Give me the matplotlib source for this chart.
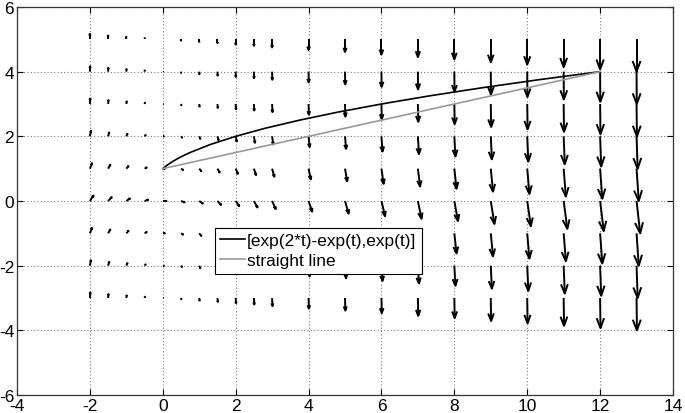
import numpy as np
import matplotlib.pyplot as plt
from matplotlib.collections import LineCollection

plt.rcParams['font.family'] = ['Liberation Sans', 'DejaVu Sans']
plt.rcParams['axes.unicode_minus'] = False

# quiver grid
x_grid = [-2, -1.5, -1, -0.5, 0, 0.5, 1, 1.5, 2, 2.5, 3, 4, 5, 6, 7, 8, 9, 10, 11, 12, 13]
y_grid = [5, 4, 3, 2, 1, 0, -1, -2, -3]
# vertical component for each column, horizontal component for each row
v_col = [0.17, 0.12, 0.08, 0.04, 0.0, -0.04, -0.08, -0.12, -0.16, -0.2, -0.25,
         -0.33, -0.39, -0.47, -0.55, -0.62, -0.71, -0.78, -0.86, -0.93, -1.0]
u_row = [0.0, 0.005, 0.01, 0.03, 0.06, 0.1, 0.06, 0.03, 0.01]

# parametric curve [exp(2t)-exp(t), exp(t)]
curve_x = [0, 0.11, 0.24, 0.39, 0.56, 0.75, 1.31, 2.0, 2.81, 3.75, 4.81, 6.0, 7.31, 8.75, 10.31, 12.0]
curve_y = [1.0, 1.1, 1.2, 1.3, 1.4, 1.5, 1.75, 2.0, 2.25, 2.5, 2.75, 3.0, 3.25, 3.5, 3.75, 4.0]
line_x = [0, 12]
line_y = [1, 4]

fig = plt.figure(figsize=(6.85, 4.14), dpi=100)
ax = fig.add_axes([17 / 685, 18 / 414, 656 / 685, 388 / 414])

# arrows drawn matlab style (shaft + open head)
X, Y = np.meshgrid(x_grid, y_grid)
U = np.tile(np.array(u_row)[:, None], (1, len(x_grid)))
V = np.tile(np.array(v_col)[None, :], (len(y_grid), 1))
alpha, beta = 0.33, 0.33
segs = []
for x0, y0, u, v in zip(X.ravel(), Y.ravel(), U.ravel(), V.ravel()):
    tx, ty = x0 + u, y0 + v
    segs.append([(x0, y0), (tx, ty)])
    segs.append([(tx - alpha * (u + beta * v), ty - alpha * (v - beta * u)),
                 (tx, ty),
                 (tx - alpha * (u - beta * v), ty - alpha * (v + beta * u))])
ax.add_collection(LineCollection(segs, colors='black', linewidths=1.4, zorder=2))

ax.plot(curve_x, curve_y, color='black', linewidth=1.2, zorder=3,
        label='[exp(2*t)-exp(t),exp(t)]')
ax.plot(line_x, line_y, color='#999999', linewidth=1.2, zorder=3, label='straight line')

ax.set_xlim(-4, 14)
ax.set_ylim(-6, 6)
ax.set_xticks(np.arange(-4, 15, 2))
ax.set_yticks(np.arange(-6, 7, 2))
ax.grid(True, linestyle=(0, (1, 2)), color='0.5', linewidth=0.8)
ax.tick_params(direction='in', top=True, right=True, length=4, labelsize=12.5, pad=2)
for s in ax.spines.values():
    s.set_color('0.2')
    s.set_linewidth(0.9)

leg = ax.legend(loc='upper left', bbox_to_anchor=(0.302, 0.4304), fontsize=12.4,
                frameon=True, fancybox=False, borderpad=0.3, handlelength=1.45,
                handletextpad=0.1, labelspacing=0.3, borderaxespad=0)
leg.get_frame().set_edgecolor('black')
leg.get_frame().set_linewidth(0.8)
leg.get_frame().set_alpha(1)

fig.savefig('out.png', dpi=100)
